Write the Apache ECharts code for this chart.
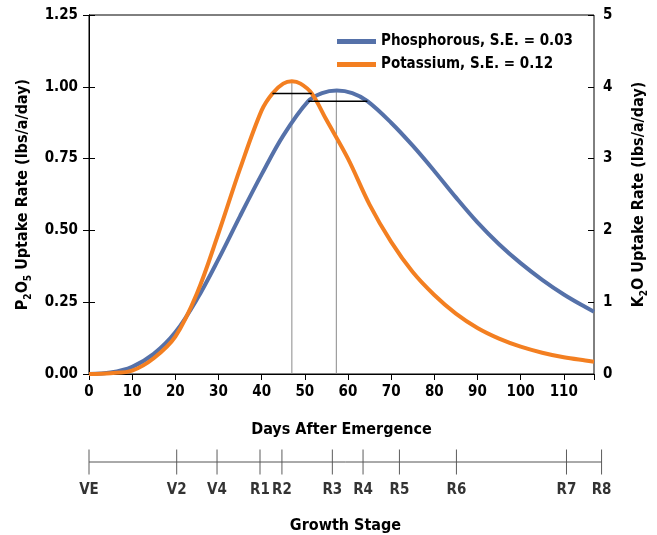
<!DOCTYPE html>
<html><head><meta charset="utf-8">
<script src="https://cdn.jsdelivr.net/npm/echarts@6/dist/echarts.min.js"></script>
<style>html,body{margin:0;padding:0;background:#fff}#c{width:657px;height:535px}</style>
</head><body><div id="c"></div>
<script>
var phosDays = [0,5,10,15,20,25,30,35,40,45,50.8,54,57.4,61,64.5,70,75,80,85,90,95,100,105,110,115,117];
var phosRate = [0,0.005,0.025,0.07,0.145,0.26,0.40,0.55,0.695,0.83,0.95,0.978,0.987,0.978,0.95,0.875,0.795,0.707,0.615,0.528,0.452,0.386,0.328,0.277,0.233,0.217];
var potDays = [0,5,10,15,20,25,30,35,40,42.5,45,47,49,51.6,55,60,65,70,75,80,85,90,95,100,105,110,115,117];
var potRate = [0,0.012,0.048,0.22,0.52,1.12,1.96,2.86,3.672,3.908,4.044,4.076,4.044,3.908,3.54,3.0,2.36,1.84,1.42,1.1,0.84,0.64,0.492,0.38,0.296,0.232,0.188,0.172];
var phosPeakLine = [[57.3,0],[57.3,0.987]];
var phosSELine = [[50.8,0.95],[64.5,0.95]];
var potPeakLine = [[47,0],[47,4.076]];
var potSELine = [[42.5,3.908],[51.6,3.908]];
var stageNames = ['VE','V2','V4','R1','R2','R3','R4','R5','R6','R7','R8'];
var stageDays = [0,20,29.2,39,44,55.5,62.5,70.8,83.8,108.9,116.9];
var seriesNames = ['Phosphorous, S.E. = 0.03','Potassium, S.E. = 0.12'];

var FONT = "'Liberation Sans Narrow','Arial Narrow','DejaVu Sans Condensed',sans-serif";
var BLUE = '#5571a9', ORANGE = '#f37f21';
function zip(a,b){return a.map(function(v,i){return [v,b[i]];});}

var chart = echarts.init(document.getElementById('c'), null, {renderer:'canvas'});
var tickStyle = {color:'#000', width:1};
var lblStyle = {color:'#000', fontFamily:FONT, fontWeight:'bold', fontSize:15};
var option = {
  animation:false,
  textStyle:{fontFamily:FONT},
  legend:{
    top:29, left:332, orient:'vertical', itemWidth:39, itemHeight:5, itemGap:8,
    data:[{name:seriesNames[0], icon:'rect'},{name:seriesNames[1], icon:'rect'}],
    textStyle:{color:'#000', fontFamily:FONT, fontWeight:'bold', fontSize:15}
  },
  grid:[
    {left:89, right:55, top:15, bottom:161, show:true, borderColor:'#000', borderWidth:1, backgroundColor:'transparent'},
    {left:89, right:55, top:452, height:24}
  ],
  xAxis:[
    {gridIndex:0, type:'value', min:0, max:117, interval:10,
      axisLine:{lineStyle:{color:'#000',width:1}}, axisTick:{length:6, lineStyle:tickStyle},
      axisLabel:Object.assign({margin:11, showMaxLabel:false}, lblStyle),
      splitLine:{show:false},
      name:'Days After Emergence', nameLocation:'middle', nameGap:48,
      nameTextStyle:{color:'#000', fontFamily:FONT, fontWeight:'bold', fontSize:16}},
    {gridIndex:0, type:'value', min:0, max:117, interval:10,
      axisLine:{show:false}, axisTick:{inside:true, length:6, lineStyle:tickStyle},
      axisLabel:{show:false}, splitLine:{show:false}},
    {gridIndex:1, type:'value', min:0, max:117,
      axisLine:{show:false}, axisTick:{show:false}, axisLabel:{show:false}, splitLine:{show:false},
      name:'Growth Stage', nameLocation:'middle', nameGap:46,
      nameTextStyle:{color:'#000', fontFamily:FONT, fontWeight:'bold', fontSize:16}}
  ],
  yAxis:[
    {gridIndex:0, type:'value', min:0, max:1.25, interval:0.25, position:'left',
      axisLine:{show:true, lineStyle:{color:'#000'}}, axisTick:{show:true, length:6, lineStyle:tickStyle},
      axisLabel:Object.assign({margin:11, formatter:function(v){return v.toFixed(2);}}, lblStyle),
      splitLine:{show:false},
      name:'{n|P}{s|2}{n|O}{s|5}{n| Uptake Rate (lbs/a/day)}', nameLocation:'middle', nameGap:56, nameRotate:90,
      nameTextStyle:{rich:{n:{fontFamily:FONT, fontWeight:'bold', fontSize:16, color:'#000'},
                          s:{fontFamily:FONT, fontWeight:'bold', fontSize:10, color:'#000', padding:[10,0,0,0]}}}},
    {gridIndex:0, type:'value', min:0, max:5, interval:1, position:'right',
      axisLine:{show:true, lineStyle:{color:'#000'}}, axisTick:{show:true, length:6, lineStyle:tickStyle},
      axisLabel:Object.assign({margin:9}, lblStyle),
      splitLine:{show:false},
      name:'{n|K}{s|2}{n|O Uptake Rate (lbs/a/day)}', nameLocation:'middle', nameGap:35, nameRotate:90,
      nameTextStyle:{rich:{n:{fontFamily:FONT, fontWeight:'bold', fontSize:16, color:'#000'},
                          s:{fontFamily:FONT, fontWeight:'bold', fontSize:10, color:'#000', padding:[10,0,0,0]}}}},
    {gridIndex:0, type:'value', min:0, max:1.25, interval:0.25, position:'left',
      axisLine:{show:false}, axisTick:{show:true, inside:true, length:6, lineStyle:tickStyle},
      axisLabel:{show:false}, splitLine:{show:false}},
    {gridIndex:0, type:'value', min:0, max:5, interval:1, position:'right',
      axisLine:{show:false}, axisTick:{show:true, inside:true, length:6, lineStyle:tickStyle},
      axisLabel:{show:false}, splitLine:{show:false}},
    {gridIndex:1, type:'value', min:-1, max:1, show:false}
  ],
  series:[
    {name:'peakP', type:'line', xAxisIndex:0, yAxisIndex:0, data:phosPeakLine, symbol:'none',
      lineStyle:{color:'#8a8a8a', width:1}, z:1, silent:true},
    {name:'peakK', type:'line', xAxisIndex:0, yAxisIndex:1, data:potPeakLine, symbol:'none',
      lineStyle:{color:'#8a8a8a', width:1}, z:1, silent:true},
    {name:seriesNames[0], type:'line', xAxisIndex:0, yAxisIndex:0, data:zip(phosDays, phosRate), smooth:0.35,
      symbol:'none', lineStyle:{color:BLUE, width:4}, itemStyle:{color:BLUE}, z:3},
    {name:seriesNames[1], type:'line', xAxisIndex:0, yAxisIndex:1, data:zip(potDays, potRate), smooth:0.35,
      symbol:'none', lineStyle:{color:ORANGE, width:4}, itemStyle:{color:ORANGE}, z:4},
    {name:'seP', type:'line', xAxisIndex:0, yAxisIndex:0, data:phosSELine, symbol:'none',
      lineStyle:{color:'#000', width:1.5}, z:5, silent:true},
    {name:'seK', type:'line', xAxisIndex:0, yAxisIndex:1, data:potSELine, symbol:'none',
      lineStyle:{color:'#000', width:1.5}, z:5, silent:true},
    {name:'stageLine', type:'line', xAxisIndex:2, yAxisIndex:4,
      data:[[stageDays[0],0],[stageDays[stageDays.length-1],0]], symbol:'none',
      lineStyle:{color:'#555', width:1}, silent:true},
    {name:'stages', type:'scatter', xAxisIndex:2, yAxisIndex:4,
      data:stageDays.map(function(d,i){return {value:[d,0], name:stageNames[i]};}),
      symbol:'rect', symbolSize:[1,25], itemStyle:{color:'#333'}, silent:true,
      label:{show:true, position:'bottom', distance:8, formatter:function(p){return p.name;},
        color:'#000', fontFamily:FONT, fontWeight:'bold', fontSize:15}}
  ]
};
chart.setOption(option);
</script></body></html>
